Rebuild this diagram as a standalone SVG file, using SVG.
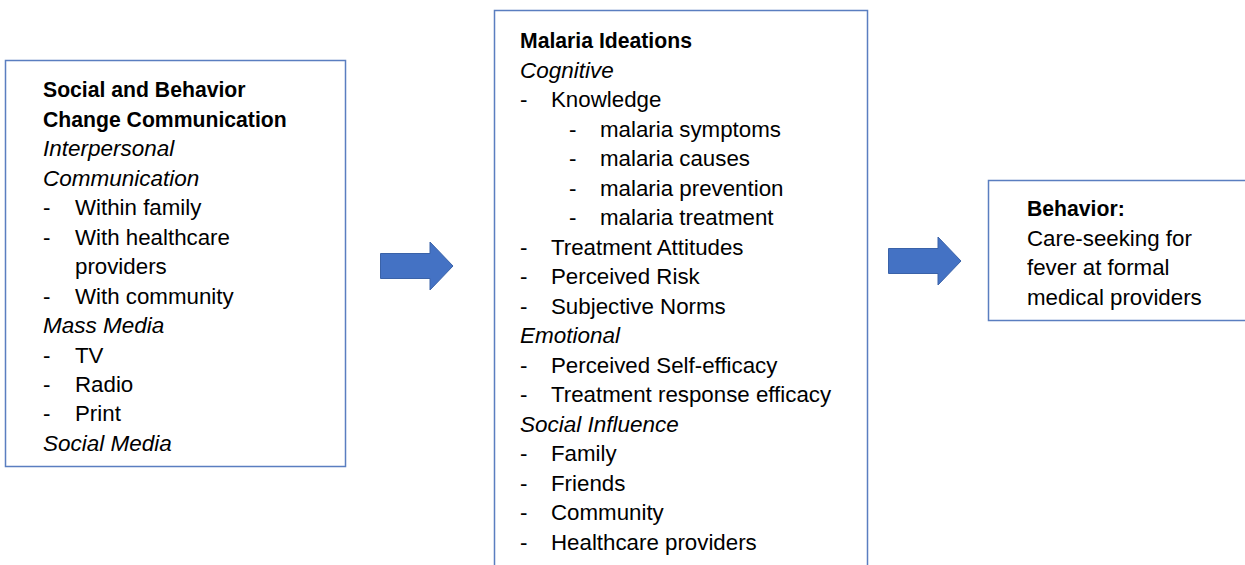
<svg xmlns="http://www.w3.org/2000/svg" width="1245" height="565" viewBox="0 0 1245 565">
  <style>
    .box { fill: #ffffff; stroke: #5A7EC0; stroke-width: 1.5; }
    .arrow { fill: #4472C4; stroke: #3A62A8; stroke-width: 1; }
    text { font-family: "Liberation Sans", Arial, sans-serif; font-size: 22.3px; fill: #000000; }
    .b { font-weight: bold; font-size: 21.2px; }
    .i { font-style: italic; font-size: 22.5px; }
  </style>
  <rect width="1245" height="565" fill="#ffffff"/>

  <!-- connectors -->
  <g id="connectors">
    <path class="arrow" d="M380.5,253.5 H430 V242 L453,266 L430,290 V278.5 H380.5 Z"/>
    <path class="arrow" d="M888.5,248.5 H938 V237 L961,261 L938,285 V273.5 H888.5 Z"/>
  </g>

  <!-- source: communication channels -->
  <g id="sbcc">
    <rect class="box" x="5.5" y="60.5" width="340" height="406"/>
    <text class="b" x="43" y="97">Social and Behavior</text>
    <text class="b" x="43" y="127">Change Communication</text>
    <text class="i" x="43" y="156">Interpersonal</text>
    <text class="i" x="43" y="186">Communication</text>
    <text x="43" y="215">-</text><text x="75" y="215">Within family</text>
    <text x="43" y="245">-</text><text x="75" y="245">With healthcare</text>
    <text x="75" y="274">providers</text>
    <text x="43" y="304">-</text><text x="75" y="304">With community</text>
    <text class="i" x="43" y="333">Mass Media</text>
    <text x="43" y="363">-</text><text x="75" y="363">TV</text>
    <text x="43" y="392">-</text><text x="75" y="392">Radio</text>
    <text x="43" y="421">-</text><text x="75" y="421">Print</text>
    <text class="i" x="43" y="451">Social Media</text>
  </g>

  <!-- mediator: ideations -->
  <g id="ideations">
    <rect class="box" x="494.5" y="10.5" width="373" height="570"/>
    <text class="b" x="520" y="48">Malaria Ideations</text>
    <text class="i" x="520" y="77.5">Cognitive</text>
    <text x="520" y="107">-</text><text x="551" y="107">Knowledge</text>
    <text x="569" y="136.5">-</text><text x="600" y="136.5">malaria symptoms</text>
    <text x="569" y="166">-</text><text x="600" y="166">malaria causes</text>
    <text x="569" y="195.5">-</text><text x="600" y="195.5">malaria prevention</text>
    <text x="569" y="225">-</text><text x="600" y="225">malaria treatment</text>
    <text x="520" y="254.5">-</text><text x="551" y="254.5">Treatment Attitudes</text>
    <text x="520" y="284">-</text><text x="551" y="284">Perceived Risk</text>
    <text x="520" y="313.5">-</text><text x="551" y="313.5">Subjective Norms</text>
    <text class="i" x="520" y="343">Emotional</text>
    <text x="520" y="372.5">-</text><text x="551" y="372.5">Perceived Self-efficacy</text>
    <text x="520" y="402">-</text><text x="551" y="402">Treatment response efficacy</text>
    <text class="i" x="520" y="431.5">Social Influence</text>
    <text x="520" y="461">-</text><text x="551" y="461">Family</text>
    <text x="520" y="490.5">-</text><text x="551" y="490.5">Friends</text>
    <text x="520" y="520">-</text><text x="551" y="520">Community</text>
    <text x="520" y="549.5">-</text><text x="551" y="549.5">Healthcare providers</text>
  </g>

  <!-- outcome -->
  <g id="behavior">
    <rect class="box" x="988.5" y="180.5" width="265" height="140"/>
    <text class="b" x="1027" y="216">Behavior:</text>
    <text x="1027" y="245.5">Care-seeking for</text>
    <text x="1027" y="275">fever at formal</text>
    <text x="1027" y="304.5">medical providers</text>
  </g>
</svg>
